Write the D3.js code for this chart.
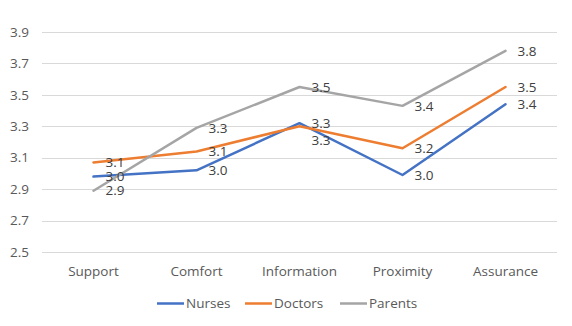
<!DOCTYPE html>
<html><head><meta charset="utf-8">
<script src="https://cdn.jsdelivr.net/npm/d3@7"></script>
<style>body{margin:0;background:#fff}</style>
</head><body>
<svg id="c" width="572" height="326"></svg>
<script>
const categories = ["Support","Comfort","Information","Proximity","Assurance"];
const nurses = [2.98, 3.02, 3.32, 2.99, 3.44];
const doctors = [3.07, 3.14, 3.30, 3.16, 3.55];
const parents = [2.89, 3.29, 3.55, 3.43, 3.78];
const seriesNames = ["Nurses","Doctors","Parents"];
const seriesColors = ["#4472C4","#ED7D31","#A5A5A5"];
const yTicks = [2.5,2.7,2.9,3.1,3.3,3.5,3.7,3.9];

const series = [nurses, doctors, parents];
const svg = d3.select("#c");
const font = "'Open Sans', sans-serif";
const fs = 13.5;
const x = d3.scaleBand().domain(categories).range([42, 557]);
const y = d3.scaleLinear().domain([2.5, 3.9]).range([252, 32]);

svg.append("g").selectAll("line").data(yTicks).join("line")
  .attr("x1", 42).attr("x2", 557)
  .attr("y1", d => Math.round(y(d)) + 0.5).attr("y2", d => Math.round(y(d)) + 0.5)
  .attr("stroke", "#d9d9d9").attr("stroke-width", 1);

svg.append("g").selectAll("text").data(yTicks).join("text")
  .attr("x", 29).attr("y", d => y(d)).attr("dy", "0.35em")
  .attr("text-anchor", "end").attr("font-family", font).attr("font-size", fs)
  .attr("fill", "#595959").text(d => d.toFixed(1));

svg.append("g").selectAll("text").data(categories).join("text")
  .attr("x", d => x(d) + x.bandwidth()/2).attr("y", 271).attr("dy", "0.35em")
  .attr("text-anchor", "middle").attr("font-family", font).attr("font-size", fs)
  .attr("fill", "#595959").text(d => d);

const line = d3.line().x((d,i) => x(categories[i]) + x.bandwidth()/2).y(d => y(d));
series.forEach((s, k) => {
  svg.append("path").datum(s).attr("d", line).attr("fill", "none")
    .attr("stroke", seriesColors[k]).attr("stroke-width", 2.5)
    .attr("stroke-linejoin", "round").attr("stroke-linecap", "round");
});
const labelShift = [[0,0,0,0,0],[0,0,14,0,0],[0,0,0,0,0]];
series.forEach((s, k) => {
  svg.append("g").selectAll("text").data(s).join("text")
    .attr("x", (d,i) => x(categories[i]) + x.bandwidth()/2 + 12)
    .attr("y", (d,i) => y(d) + labelShift[k][i]).attr("dy", "0.35em")
    .attr("font-family", font).attr("font-size", fs).attr("fill", "#404040")
    .text(d => d.toFixed(1));
});

const legX = [157, 245, 340];
const lg = svg.append("g");
seriesNames.forEach((n, k) => {
  lg.append("line").attr("x1", legX[k]).attr("x2", legX[k] + 27)
    .attr("y1", 303.5).attr("y2", 303.5).attr("stroke", seriesColors[k]).attr("stroke-width", 2.5);
  lg.append("text").attr("x", legX[k] + 29).attr("y", 303.5).attr("dy", "0.35em")
    .attr("font-family", font).attr("font-size", fs).attr("fill", "#595959").text(n);
});
</script>
</body></html>
